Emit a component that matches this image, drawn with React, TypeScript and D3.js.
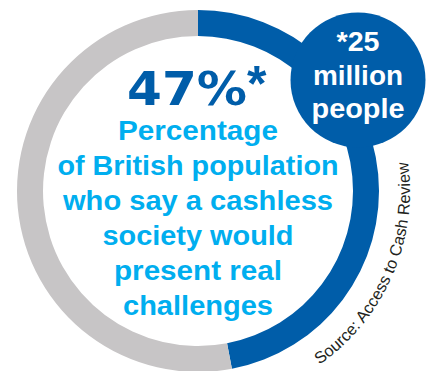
import React from 'react';
import * as d3 from 'd3';

// ---- data ----
const segmentNames = ['Say a cashless society would present real challenges', 'Others'];
const segmentValues = [47, 53];
const headlineValue = '47%';
const headlineMark = '*';
const bubbleLines = ['*25', 'million', 'people'];
const descLines = [
  'Percentage',
  'of British population',
  'who say a cashless',
  'society would',
  'present real',
  'challenges',
];
const sourceText = 'Source: Access to Cash Review';

// ---- layout (kept apart from data) ----
const W = 432;
const H = 371;
const CX = 198;
const CY = 191;
const R_OUT = 181;
const R_IN = 155;
const descWidths = [160, 281, 270, 191, 168, 150];
const bubbleWidths = [43, 90, 93];
const bubbleBaselines = [51, 85, 118];

const COL_BLUE = '#005DA9';
const COL_GREY = '#C7C5C6';
const COL_CYAN = '#00AEEF';
const COL_TEXT = '#231F20';
const FONT = '"Liberation Sans", Arial, Helvetica, sans-serif';

export default function App() {
  const pie = d3.pie<number>().sort(null).value((d) => d)(segmentValues);
  const arc = d3.arc<d3.PieArcDatum<number>>().innerRadius(R_IN).outerRadius(R_OUT);
  const colors = d3.scaleOrdinal<string, string>().domain(segmentNames).range([COL_BLUE, COL_GREY]);

  const descY = d3.scaleLinear().domain([0, descLines.length - 1]).range([140, 315]);

  const srcPath = d3.path();
  const deg = Math.PI / 180;
  srcPath.arc(CX, CY, 212, 55 * deg, -12 * deg, true);

  return (
    <svg
      width={W}
      height={H}
      viewBox={`0 0 ${W} ${H}`}
      style={{ position: 'absolute', left: 0, top: 0, background: '#fff' }}
    >
      <defs>
        <path id="srcArc" d={srcPath.toString()} fill="none" />
      </defs>
      <g transform={`translate(${CX},${CY})`}>
        {pie.map((p, i) => (
          <path key={i} d={arc(p) || ''} fill={colors(segmentNames[i])} />
        ))}
      </g>
      {/* bubble */}
      <circle cx={358} cy={80} r={67.5} fill={COL_BLUE} />
      {bubbleLines.map((t, i) => (
        <text
          key={t}
          x={358}
          y={bubbleBaselines[i]}
          textAnchor="middle"
          fontFamily={FONT}
          fontWeight="bold"
          fontSize={27}
          fill="#fff"
          textLength={bubbleWidths[i]}
          lengthAdjust="spacingAndGlyphs"
        >
          {t}
        </text>
      ))}
      {/* headline */}
      <text
        x={127}
        y={105}
        fontFamily='"DejaVu Sans", Verdana, sans-serif'
        fontWeight="bold"
        fontSize={46}
        fill={COL_BLUE}
        textLength={120}
        lengthAdjust="spacingAndGlyphs"
      >
        {headlineValue}
      </text>
      <text x={247} y={101} fontFamily={FONT} fontWeight="bold" fontSize={50} fill={COL_BLUE}>
        {headlineMark}
      </text>
      {descLines.map((t, i) => (
        <text
          key={t}
          x={198}
          y={descY(i)}
          textAnchor="middle"
          fontFamily={FONT}
          fontWeight="bold"
          fontSize={27}
          fill={COL_CYAN}
          textLength={descWidths[i]}
          lengthAdjust="spacingAndGlyphs"
        >
          {t}
        </text>
      ))}
      <text fontFamily={FONT} fontSize={16.4} fill={COL_TEXT}>
        <textPath href="#srcArc" startOffset="0">
          {sourceText}
        </textPath>
      </text>
    </svg>
  );
}
